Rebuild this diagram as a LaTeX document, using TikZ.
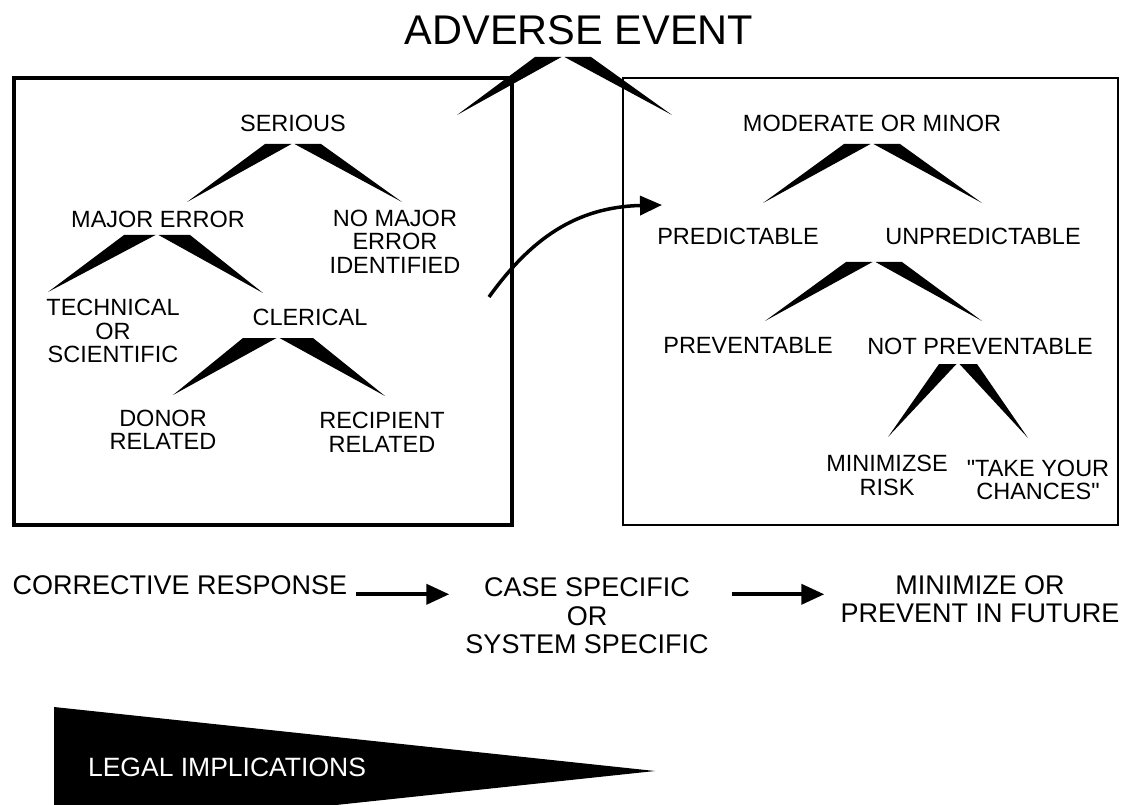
\documentclass[tikz,border=0pt]{standalone}
\usepackage{fontspec}
\setmainfont{Liberation Sans}[Ligatures=TeXOff]
\usetikzlibrary{arrows.meta}

% two tapering wedges hanging from one apex
\newcommand{\splitwedge}[4]{%
  \fill ([xshift=-#2pt]#1) -- ([xshift=-1.5pt]#1) -- (#3) -- cycle;
  \fill ([xshift=1.5pt]#1) -- ([xshift=#2pt]#1) -- (#4) -- cycle;}

\begin{document}
\begin{tikzpicture}[x=1pt, y=-1pt,
  every node/.style={font=\fontsize{23.5}{23.5}\selectfont, align=center, inner sep=2pt},
  big/.style={font=\fontsize{27}{28.5}\selectfont},
  flow/.style={line width=4pt, -{Triangle[length=23pt,width=20pt]}}]
  \useasboundingbox (0,0) rectangle (1122,805);
  % frames
  \draw[line width=4pt] (14,78) rectangle (512,525);
  \draw[line width=1.3pt] (623,78) rectangle (1118,525);

  \node[font=\fontsize{41.5}{41.5}\selectfont] (event) at (579,30) {ADVERSE EVENT};
  \coordinate (e0) at (563,57);
  \coordinate (eL) at (457,115);
  \coordinate (eR) at (672,115);
  \splitwedge{e0}{28}{eL}{eR}

  % serious side
  \node (serious) at (293,123) {SERIOUS};
  \node (major) at (158,219) {MAJOR ERROR};
  \node (nomajor) at (395,241.5) {NO MAJOR\\ERROR\\IDENTIFIED};
  \node (technical) at (113,331) {TECHNICAL\\OR\\SCIENTIFIC};
  \node (clerical) at (310,317) {CLERICAL};
  \node (donor) at (163,430) {DONOR\\RELATED};
  \node (recipient) at (382,432.5) {RECIPIENT\\RELATED};
  \coordinate (s0) at (293,144);
  \coordinate (sL) at (187,202);
  \coordinate (sR) at (402,202);
  \splitwedge{s0}{28}{sL}{sR}
  \coordinate (m0) at (157,235);
  \coordinate (mL) at (48,292);
  \coordinate (mR) at (263,293);
  \splitwedge{m0}{33}{mL}{mR}
  \coordinate (c0) at (278,338);
  \coordinate (cL) at (173,395);
  \coordinate (cR) at (385,396);
  \splitwedge{c0}{35}{cL}{cR}

  % moderate side
  \node (moderate) at (872,123) {MODERATE OR MINOR};
  \node (predictable) at (738,236) {PREDICTABLE};
  \node (unpredictable) at (983,236) {UNPREDICTABLE};
  \node (preventable) at (748,345) {PREVENTABLE};
  \node (notprev) at (980,346) {NOT PREVENTABLE};
  \node (minrisk) at (887,475.5) {MINIMIZSE\\RISK};
  \node (chances) at (1038,480) {"TAKE YOUR\\CHANCES"};
  \coordinate (d0) at (872,144);
  \coordinate (dL) at (763,203);
  \coordinate (dR) at (982,203);
  \splitwedge{d0}{28}{dL}{dR}
  \coordinate (u0) at (874,262);
  \coordinate (uL) at (765,321);
  \coordinate (uR) at (982,321);
  \splitwedge{u0}{28}{uL}{uR}
  \coordinate (n0) at (958,364);
  \coordinate (nL) at (888,437);
  \coordinate (nR) at (1028,438);
  \splitwedge{n0}{19}{nL}{nR}

  % crossing arrow
  \coordinate (cross0) at (489,297);
  \coordinate (cross1) at (662,205);
  \draw[line width=3.5pt, -{Triangle[length=22pt,width=19pt]}]
    (cross0) .. controls (530,240) and (575,207) .. (cross1);

  % response row
  \node[big] (corrective) at (180,585) {CORRECTIVE RESPONSE};
  \node[big] (casespec) at (587,616) {CASE SPECIFIC\\OR\\SYSTEM SPECIFIC};
  \node[big] (future) at (980,599) {MINIMIZE OR\\PREVENT IN FUTURE};
  \draw[flow, shorten <=7pt, shorten >=14pt] (corrective.base east) -- (corrective.base east -| casespec.west);
  \draw[flow, shorten <=21pt, shorten >=14pt] (corrective.base east -| casespec.east) -- (corrective.base east -| future.west);

  % legal wedge
  \fill (54,707) -- (655,771) -- (336,805) -- (54,805) -- cycle;
  \node[white, font=\fontsize{26.5}{26.5}\selectfont] (legal) at (227,767) {LEGAL IMPLICATIONS};
\end{tikzpicture}
\end{document}
